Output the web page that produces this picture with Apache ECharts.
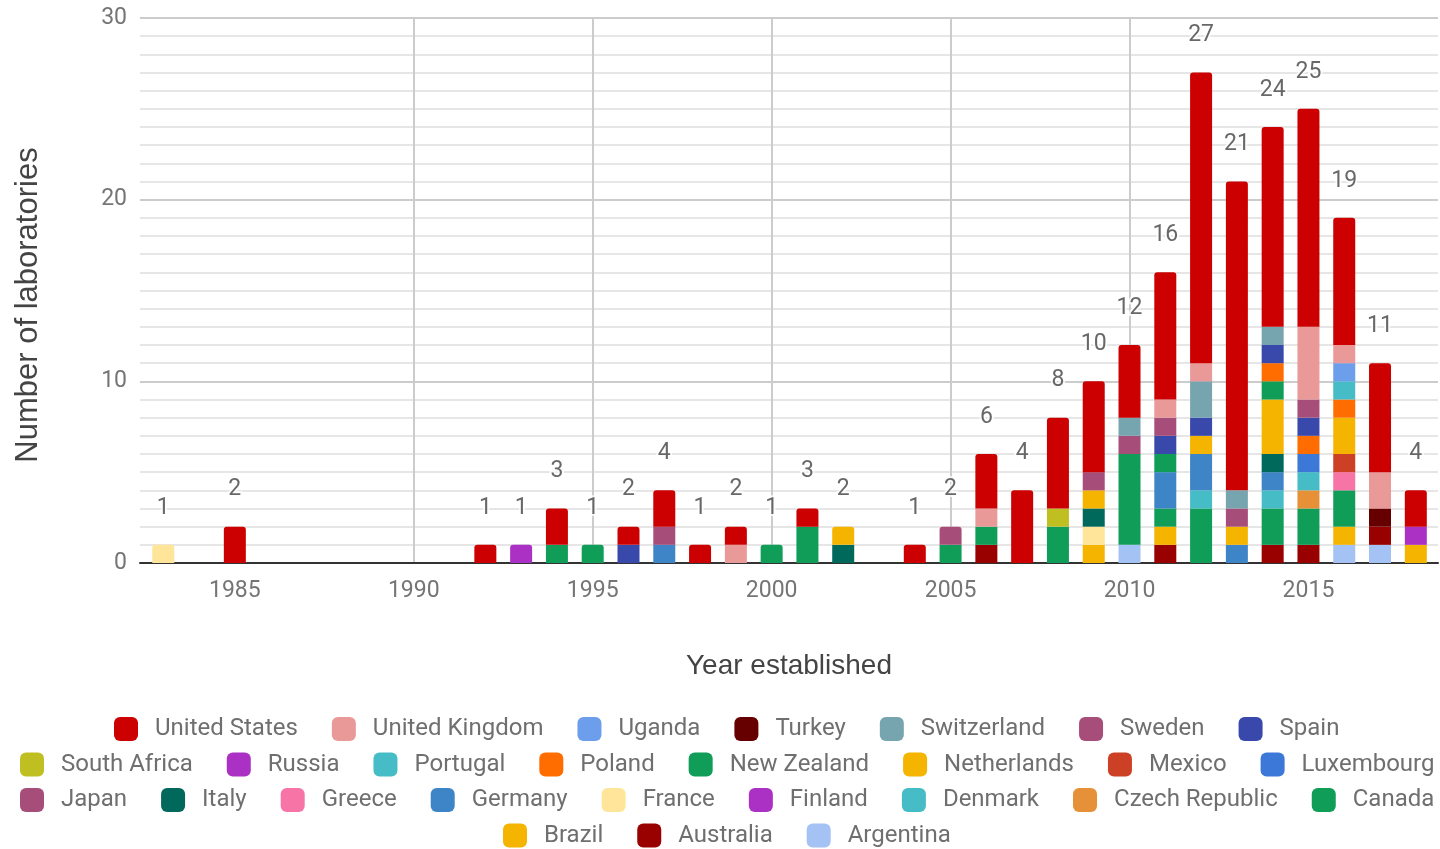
<!DOCTYPE html>
<html>
<head>
<meta charset="utf-8">
<title>Laboratories by year established</title>
<script src="https://cdn.jsdelivr.net/npm/echarts@6/dist/echarts.min.js"></script>
<style>
  html, body { margin: 0; padding: 0; background: #ffffff; }
  #chart { width: 1440px; height: 849px; }
</style>
</head>
<body>
<div id="chart"></div>
<script>
// Years in which at least one laboratory was established
const YEARS = [1983, 1985, 1992, 1993, 1994, 1995, 1996, 1997, 1998, 1999, 2000, 2001, 2002,
               2004, 2005, 2006, 2007, 2008, 2009, 2010, 2011, 2012, 2013, 2014, 2015, 2016, 2017, 2018];

// Laboratories established per year, by country (year -> count)
const unitedStates   = {1985: 2, 1992: 1, 1994: 2, 1996: 1, 1997: 2, 1998: 1, 1999: 1, 2001: 1, 2004: 1, 2006: 3,
                        2007: 4, 2008: 5, 2009: 5, 2010: 4, 2011: 7, 2012: 16, 2013: 17, 2014: 11, 2015: 12,
                        2016: 7, 2017: 6, 2018: 2};
const unitedKingdom  = {1999: 1, 2006: 1, 2011: 1, 2012: 1, 2015: 4, 2016: 1, 2017: 2};
const uganda         = {2016: 1};
const turkey         = {2017: 1};
const switzerland    = {2010: 1, 2012: 2, 2013: 1, 2014: 1};
const sweden         = {2009: 1, 2011: 1, 2013: 1, 2015: 1};
const spain          = {1996: 1, 2011: 1, 2012: 1, 2014: 1, 2015: 1};
const southAfrica    = {2008: 1};
const russia         = {1993: 1};
const portugal       = {2016: 1};
const poland         = {2014: 1, 2015: 1, 2016: 1};
const newZealand     = {1995: 1, 2000: 1, 2011: 1, 2014: 1};
const netherlands    = {2002: 1, 2009: 1, 2012: 1, 2013: 1, 2014: 3, 2016: 2};
const mexico         = {2016: 1};
const luxembourg     = {2015: 1};
const japan          = {1997: 1, 2005: 1, 2010: 1};
const italy          = {2002: 1, 2009: 1, 2014: 1};
const greece         = {2016: 1};
const germany        = {1997: 1, 2011: 2, 2012: 2, 2013: 1, 2014: 1};
const france         = {1983: 1, 2009: 1};
const finland        = {2018: 1};
const denmark        = {2012: 1, 2014: 1, 2015: 1};
const czechRepublic  = {2015: 1};
const canada         = {1994: 1, 2001: 2, 2005: 1, 2006: 1, 2008: 2, 2010: 5, 2011: 1, 2012: 3, 2014: 2,
                        2015: 2, 2016: 2};
const brazil         = {2009: 1, 2011: 1, 2016: 1, 2018: 1};
const australia      = {2006: 1, 2011: 1, 2014: 1, 2015: 1, 2017: 1};
const argentina      = {2010: 1, 2016: 1, 2017: 1};

// Stacking order, bottom to top
const STACK = [
  ['Argentina', argentina], ['Australia', australia], ['Brazil', brazil], ['Canada', canada],
  ['Czech Republic', czechRepublic], ['Denmark', denmark], ['Finland', finland], ['France', france],
  ['Germany', germany], ['Greece', greece], ['Italy', italy], ['Japan', japan],
  ['Luxembourg', luxembourg], ['Mexico', mexico], ['Netherlands', netherlands], ['New Zealand', newZealand],
  ['Poland', poland], ['Portugal', portugal], ['Russia', russia], ['South Africa', southAfrica],
  ['Spain', spain], ['Sweden', sweden], ['Switzerland', switzerland], ['Turkey', turkey],
  ['Uganda', uganda], ['United Kingdom', unitedKingdom], ['United States', unitedStates]
];

// Legend rows
const LEGEND_ROWS = [
  ['United States', 'United Kingdom', 'Uganda', 'Turkey', 'Switzerland', 'Sweden', 'Spain'],
  ['South Africa', 'Russia', 'Portugal', 'Poland', 'New Zealand', 'Netherlands', 'Mexico', 'Luxembourg'],
  ['Japan', 'Italy', 'Greece', 'Germany', 'France', 'Finland', 'Denmark', 'Czech Republic', 'Canada'],
  ['Brazil', 'Australia', 'Argentina']
];

// Year tick labels
const YEAR_TICKS = [1985, 1990, 1995, 2000, 2005, 2010, 2015];

const COLORS = {
  'United States': '#cc0000', 'United Kingdom': '#ea9999', 'Uganda': '#6d9eeb', 'Turkey': '#660000',
  'Switzerland': '#76a5af', 'Sweden': '#a64d79', 'Spain': '#3949ab', 'South Africa': '#c0bf22',
  'Russia': '#ab30c4', 'Portugal': '#46bdc6', 'Poland': '#ff6d01', 'New Zealand': '#0f9d58',
  'Netherlands': '#f4b400', 'Mexico': '#cc4125', 'Luxembourg': '#3c78d8', 'Japan': '#a64d79',
  'Italy': '#00695c', 'Greece': '#f774a7', 'Germany': '#3d85c6', 'France': '#ffe599',
  'Finland': '#ab30c4', 'Denmark': '#46bdc6', 'Czech Republic': '#e69138', 'Canada': '#0f9d58',
  'Brazil': '#f4b400', 'Australia': '#990000', 'Argentina': '#a4c2f4'
};

const totals = YEARS.map(y => STACK.reduce((s, [, m]) => s + (m[y] || 0), 0));
const topOfStack = YEARS.map(y => {
  let idx = -1;
  STACK.forEach(([, m], i) => { if (m[y]) idx = i; });
  return idx;
});

// Each datum is [count, year]; the count comes first so it is the stacked dimension.
const barSeries = STACK.map(([name, m], si) => ({
  name,
  type: 'bar',
  stack: 'labs',
  barWidth: 22,
  color: COLORS[name],
  itemStyle: { color: COLORS[name] },
  emphasis: { disabled: true },
  encode: { x: 1, y: 0 },
  data: YEARS.map((y, yi) => {
    const item = { value: [m[y] || 0, y] };
    if (topOfStack[yi] === si) item.itemStyle = { borderRadius: [3, 3, 0, 0] };
    return item;
  })
}));

const totalSeries = {
  name: 'Total',
  type: 'scatter',
  symbolSize: 1,
  silent: true,
  z: 10,
  itemStyle: { color: 'rgba(0,0,0,0)' },
  encode: { x: 1, y: 0 },
  data: YEARS.map((y, i) => [totals[i], y]),
  label: {
    show: true,
    position: 'top',
    distance: 25,
    formatter: p => String(p.value[0]),
    fontFamily: 'Roboto',
    fontSize: 23,
    color: '#424242',
    textBorderColor: '#ffffff',
    textBorderWidth: 4
  }
};

// Legend rows are centred on the plot rather than on the page.
const LEGEND_CENTER_X = 727;
const LEGEND_ITEM = { icon: 24, iconGap: 5, textPad: 12, gap: 34, font: '24px Roboto' };
const measureCtx = document.createElement('canvas').getContext('2d');
measureCtx.font = LEGEND_ITEM.font;
function rowWidth(row) {
  let w = 0;
  row.forEach((name, i) => {
    w += LEGEND_ITEM.icon + LEGEND_ITEM.iconGap + LEGEND_ITEM.textPad + measureCtx.measureText(name).width;
    if (i > 0) w += LEGEND_ITEM.gap;
  });
  return w;
}

const chart = echarts.init(document.getElementById('chart'), null, { renderer: 'canvas' });
chart.setOption({
  animation: false,
  backgroundColor: '#ffffff',
  textStyle: { fontFamily: 'Roboto' },
  grid: { left: 140, right: 2, top: 18, bottom: 286, containLabel: false },
  xAxis: {
    type: 'value',
    min: 1982.35,
    max: 2018.62,
    splitNumber: 7,
    name: 'Year established',
    nameLocation: 'middle',
    nameGap: 89,
    nameTextStyle: { fontFamily: 'Liberation Sans', fontSize: 28, color: '#444444' },
    axisLine: { show: true, onZero: false, lineStyle: { color: '#333333', width: 2 } },
    axisTick: { show: false, customValues: YEAR_TICKS },
    axisLabel: { customValues: YEAR_TICKS, formatter: v => String(v), fontSize: 23, color: '#757575', margin: 17 },
    splitLine: { show: true, showMinLine: false, showMaxLine: false, lineStyle: { color: '#cccccc', width: 2 } }
  },
  yAxis: {
    type: 'value',
    min: 0,
    max: 30,
    interval: 10,
    axisLine: { show: false },
    axisTick: { show: false },
    axisLabel: { fontSize: 23, color: '#757575', margin: 13, padding: [6, 0, 0, 0] },
    splitLine: { show: true, lineStyle: { color: '#cccccc', width: 2 } },
    minorTick: { show: false, splitNumber: 10 },
    minorSplitLine: { show: true, lineStyle: { color: '#e6e6e6', width: 2 } }
  },
  graphic: [{
    type: 'text',
    x: 28,
    y: 305,
    rotation: Math.PI / 2,
    style: {
      text: 'Number of laboratories',
      fontFamily: 'Liberation Sans',
      fontSize: 31,
      fill: '#444444',
      align: 'center',
      verticalAlign: 'middle'
    }
  }],
  legend: LEGEND_ROWS.map((row, i) => ({
    data: row,
    left: Math.round(LEGEND_CENTER_X - rowWidth(row) / 2 - 5),
    top: 712 + i * 35.5,
    icon: 'roundRect',
    itemWidth: 24,
    itemHeight: 24,
    itemGap: 34,
    selectedMode: false,
    textStyle: { fontFamily: 'Roboto', fontSize: 24, color: '#6f6f6f', padding: [0, 0, 0, 12] }
  })),
  series: [...barSeries, totalSeries]
});
</script>
</body>
</html>
